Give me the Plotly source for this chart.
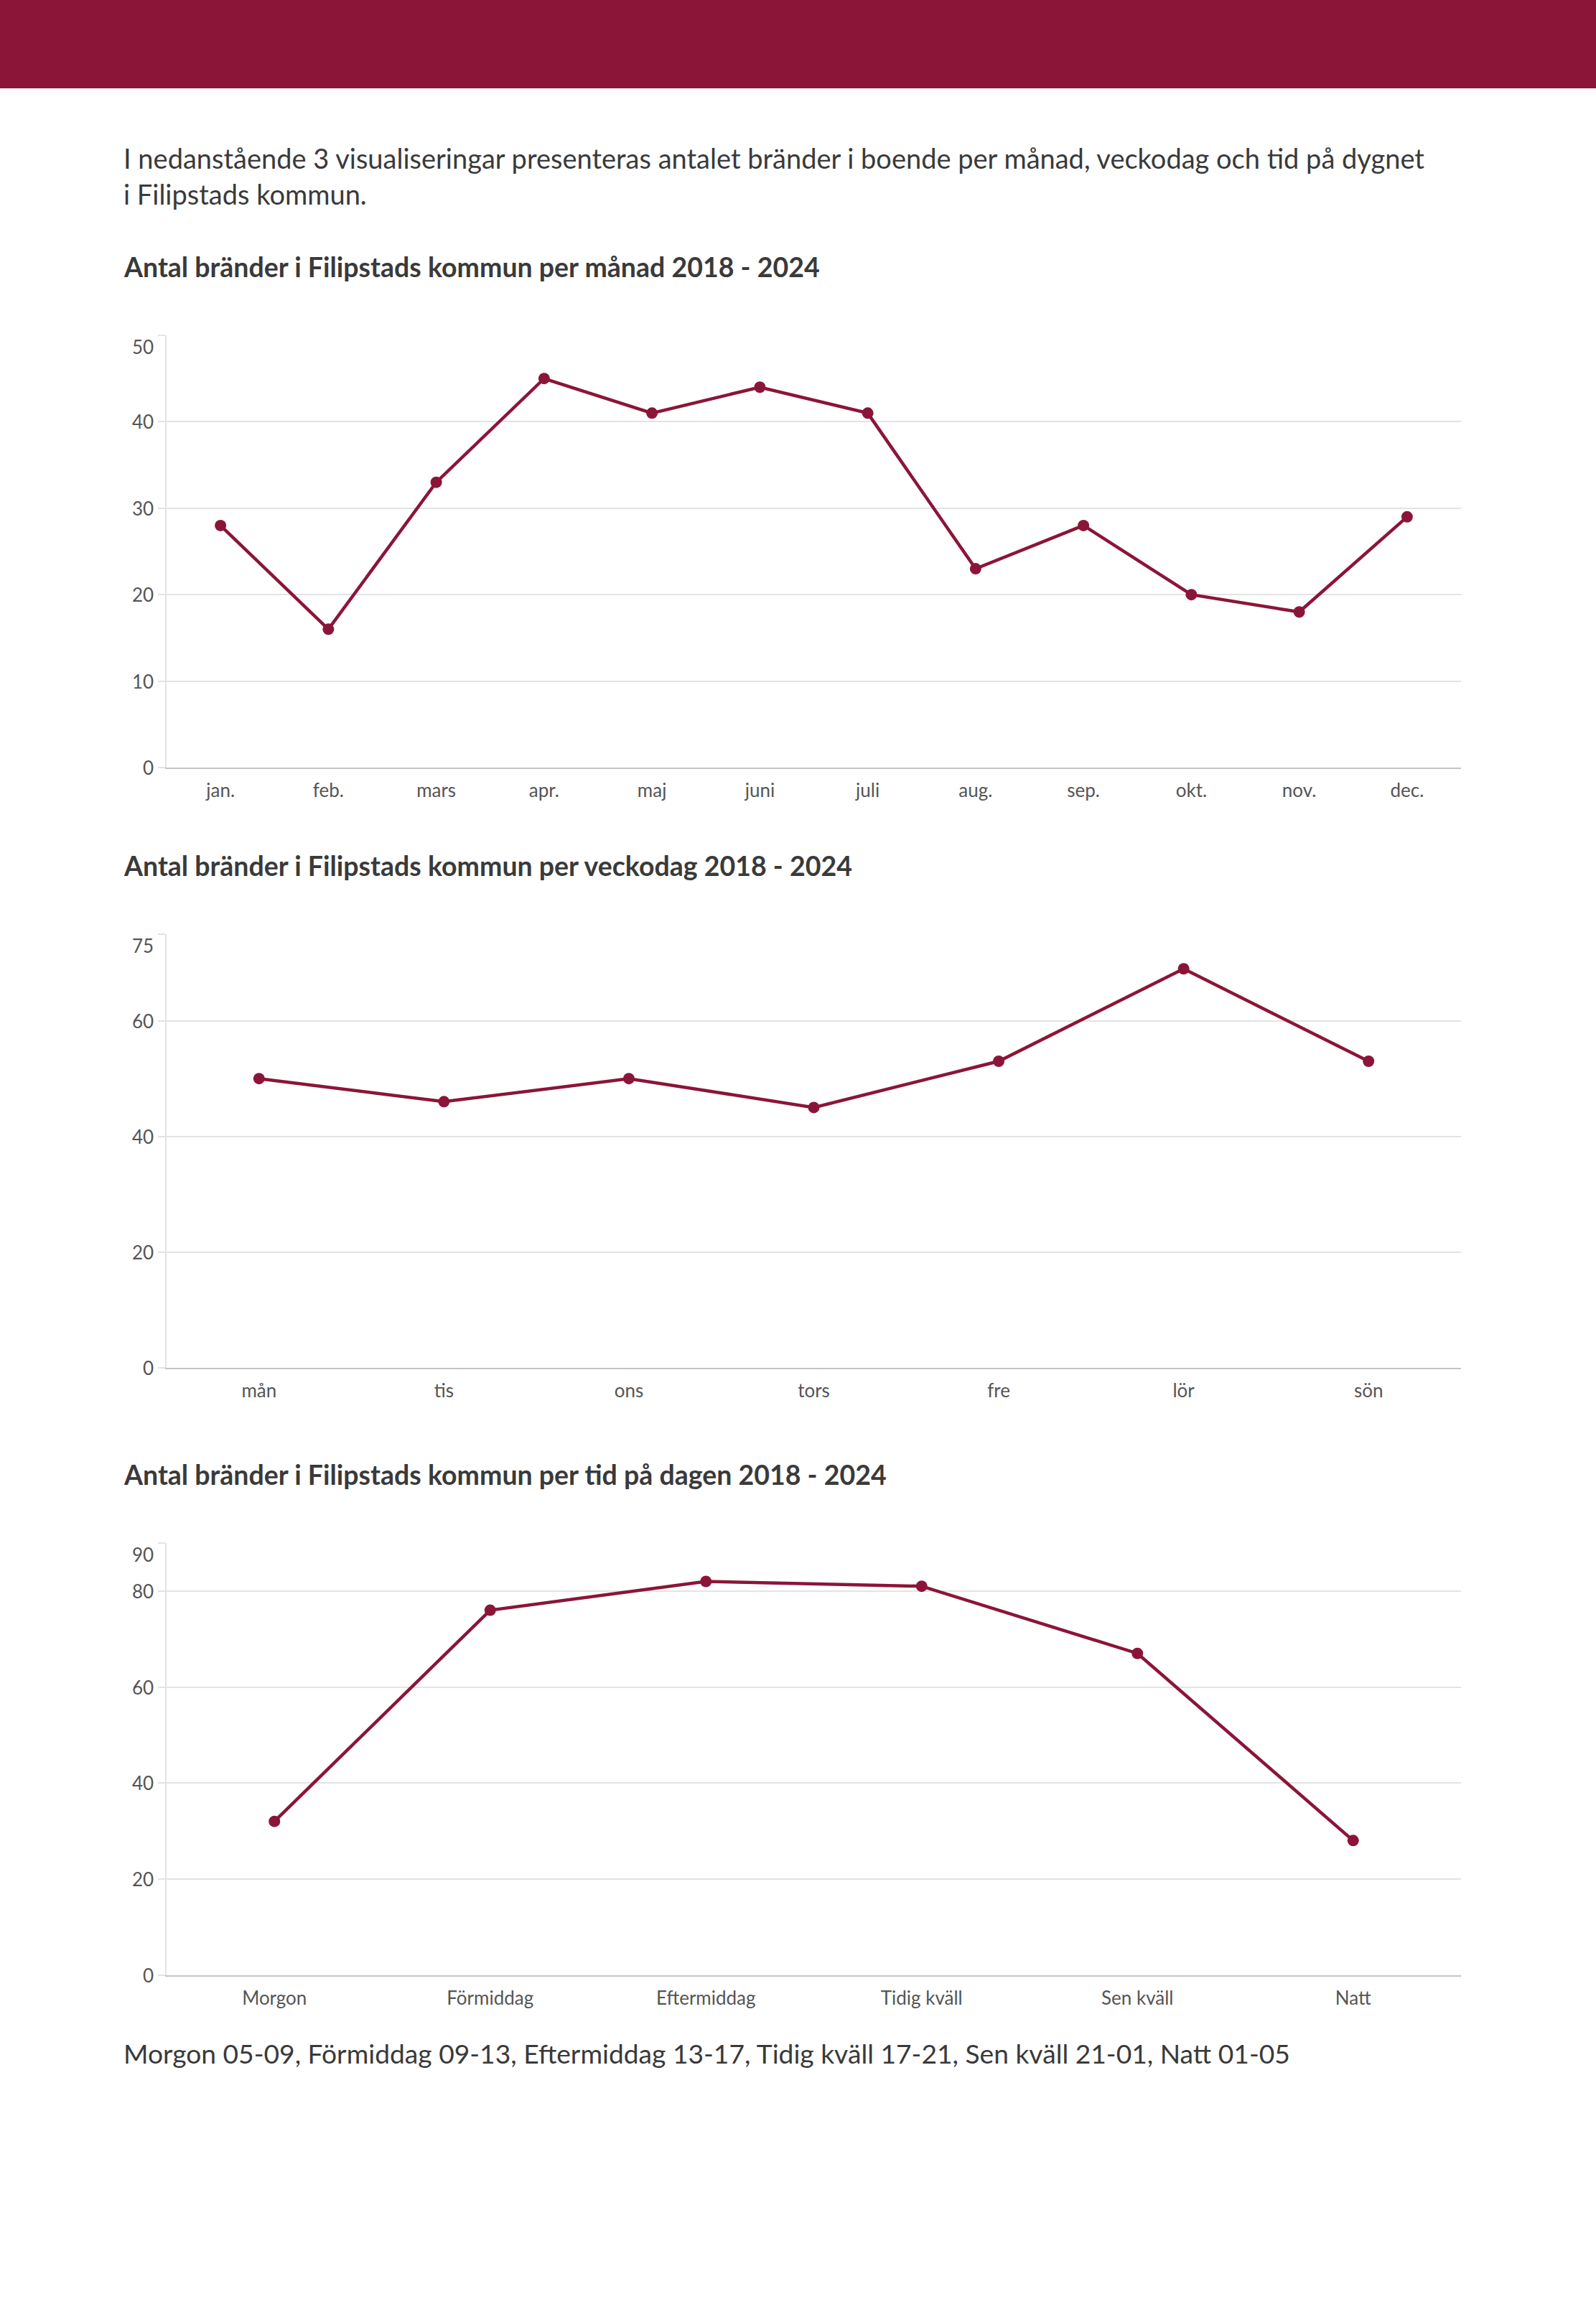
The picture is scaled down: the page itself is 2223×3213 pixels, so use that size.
import plotly.graph_objects as go

# ---- data ----
months = ["jan.", "feb.", "mars", "apr.", "maj", "juni", "juli", "aug.", "sep.", "okt.", "nov.", "dec."]
month_values = [28, 16, 33, 45, 41, 44, 41, 23, 28, 20, 18, 29]
month_ticks = [0, 10, 20, 30, 40, 50]

weekdays = ["mån", "tis", "ons", "tors", "fre", "lör", "sön"]
weekday_values = [50, 46, 50, 45, 53, 69, 53]
weekday_ticks = [0, 20, 40, 60, 75]

periods = ["Morgon", "Förmiddag", "Eftermiddag", "Tidig kväll", "Sen kväll", "Natt"]
period_values = [32, 76, 82, 81, 67, 28]
period_ticks = [0, 20, 40, 60, 80, 90]

intro_1 = "I nedanstående 3 visualiseringar presenteras antalet bränder i boende per månad, veckodag och tid på dygnet"
intro_2 = "i Filipstads kommun."
titles = [
    "Antal bränder i Filipstads kommun per månad 2018 - 2024",
    "Antal bränder i Filipstads kommun per veckodag 2018 - 2024",
    "Antal bränder i Filipstads kommun per tid på dagen 2018 - 2024",
]
footer = "Morgon 05-09, Förmiddag 09-13, Eftermiddag 13-17, Tidig kväll 17-21, Sen kväll 21-01, Natt 01-05"

# ---- style ----
W, H = 2223, 3213
BRAND = "#8b1538"
TEXT = "#3a3a3a"
TICK = "#555555"
GRID = "#e3e3e3"
FONT = "Lato"

def py(y):
    return 1 - y / H

def px(x):
    return x / W

fig = go.Figure()

charts = [
    (months, month_values, month_ticks, 467, 1069),
    (weekdays, weekday_values, weekday_ticks, 1301, 1904.5),
    (periods, period_values, period_ticks, 2149, 2750.5),
]

layout = {}
tick_annotations = []
for i, (cats, vals, ticks, top, bottom) in enumerate(charts, start=1):
    sfx = "" if i == 1 else str(i)
    fig.add_trace(go.Scatter(
        x=cats, y=vals, mode="lines+markers",
        line=dict(color=BRAND, width=4.5),
        marker=dict(color=BRAND, size=16),
        xaxis="x" + sfx, yaxis="y" + sfx,
        hoverinfo="skip", showlegend=False,
    ))
    layout["xaxis" + sfx] = dict(
        domain=[px(232), px(2035)],
        anchor="y" + sfx,
        type="category",
        categoryorder="array", categoryarray=cats,
        range=[-0.5, len(cats) - 0.5],
        showgrid=False, zeroline=False,
        showline=True, linecolor="#c4c4c4", linewidth=2,
        ticks="", ticklabelstandoff=8,
        tickfont=dict(family=FONT, size=26, color=TICK),
        fixedrange=True, automargin=False,
    )
    layout["yaxis" + sfx] = dict(
        domain=[py(bottom), py(top)],
        anchor="x" + sfx,
        range=[0, ticks[-1]],
        tickvals=ticks,
        showticklabels=False,
        showgrid=True, gridcolor=GRID, gridwidth=2,
        zeroline=False,
        showline=True, linecolor=GRID, linewidth=2,
        ticks="outside", ticklen=10, tickcolor=GRID, tickwidth=2,
        fixedrange=True, automargin=False,
    )
    # y tick labels (top label is kept inside the plot, as in the original)
    for t in ticks:
        tick_annotations.append(dict(
            text=str(t), xref="paper", yref="y" + sfx,
            x=px(216), y=t, xanchor="right", yanchor="middle",
            yshift=-16 if t == ticks[-1] else 0,
            font=dict(family=FONT, size=26, color=TICK), showarrow=False,
        ))

annotations = [
    dict(text=intro_1, x=px(170), y=py(220), xanchor="left", yanchor="middle",
         font=dict(family=FONT, size=38, color=TEXT)),
    dict(text=intro_2, x=px(170), y=py(270), xanchor="left", yanchor="middle",
         font=dict(family=FONT, size=38, color=TEXT)),
    dict(text="<b>" + titles[0] + "</b>", x=px(170), y=py(371), xanchor="left", yanchor="middle",
         font=dict(family=FONT, size=37.5, color=TEXT)),
    dict(text="<b>" + titles[1] + "</b>", x=px(170), y=py(1205), xanchor="left", yanchor="middle",
         font=dict(family=FONT, size=37.5, color=TEXT)),
    dict(text="<b>" + titles[2] + "</b>", x=px(170), y=py(2053), xanchor="left", yanchor="middle",
         font=dict(family=FONT, size=37.5, color=TEXT)),
    dict(text=footer, x=px(170), y=py(2859), xanchor="left", yanchor="middle",
         font=dict(family=FONT, size=37.2, color=TEXT)),
]
for a in annotations:
    a.update(xref="paper", yref="paper", showarrow=False)

fig.update_layout(
    width=W, height=H, autosize=False,
    margin=dict(l=0, r=0, t=0, b=0, pad=0),
    paper_bgcolor="white", plot_bgcolor="white",
    font=dict(family=FONT, color=TEXT),
    annotations=annotations + tick_annotations,
    shapes=[dict(type="rect", xref="paper", yref="paper",
                 x0=0, x1=1, y0=py(123), y1=1,
                 fillcolor=BRAND, line=dict(width=0), layer="below")],
    hovermode=False,
    showlegend=False,
    **layout,
)

post = (
    "document.documentElement.style.margin='0';"
    "document.documentElement.style.padding='0';"
    "document.documentElement.style.overflow='hidden';"
    "document.body.style.margin='0';"
    "document.body.style.padding='0';"
    "document.body.style.overflow='hidden';"
    "var g=document.getElementById('{plot_id}');"
    "g.style.position='fixed';g.style.top='0px';g.style.left='0px';g.style.zIndex='10';"
)

fig.write_html("out.html", config={"displayModeBar": False}, post_script=post)
